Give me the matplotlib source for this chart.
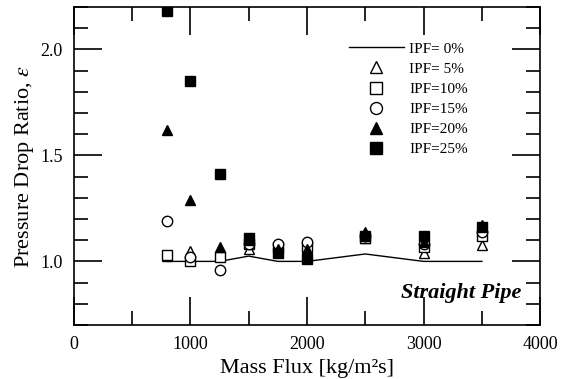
import matplotlib as mpl
mpl.use('Agg')
import matplotlib.pyplot as plt
from matplotlib.ticker import MultipleLocator

plt.rcParams['font.family'] = ['Liberation Serif', 'DejaVu Serif']
plt.rcParams['mathtext.fontset'] = 'stix'

# IPF = 0% reference line
g_line = [800, 1000, 1250, 1500, 1750, 2000, 2500, 3000, 3500]
eps_line = [1.0, 1.0, 1.0, 1.025, 1.0, 1.0, 1.035, 1.0, 1.0]

# measured points
g_pts = [800, 1000, 1250, 1500, 1750, 2000, 2500, 3000, 3500]
eps_5 = [1.025, 1.05, 1.03, 1.06, 1.065, 1.06, 1.11, 1.04, 1.075]
eps_10 = [1.03, 1.0, 1.02, 1.08, 1.07, 1.07, 1.11, 1.07, 1.12]
eps_15 = [1.19, 1.02, 0.96, 1.08, 1.08, 1.09, 1.12, 1.08, 1.14]
eps_20 = [1.62, 1.29, 1.07, 1.10, 1.06, 1.06, 1.14, 1.09, 1.17]
eps_25 = [2.18, 1.85, 1.41, 1.11, 1.04, 1.01, 1.12, 1.12, 1.16]

fig = plt.figure(figsize=(5.68, 3.79), dpi=100)
ax = fig.add_axes([0.130, 0.1425, 0.821, 0.839])

ax.plot(g_line, eps_line, color='black', lw=1.0, label='IPF= 0%')
ax.plot(g_pts, eps_5, '^', ms=7.5, mfc='white', mec='black', mew=1.0, label='IPF= 5%')
ax.plot(g_pts, eps_10, 's', ms=7.5, mfc='white', mec='black', mew=1.0, label='IPF=10%')
ax.plot(g_pts, eps_15, 'o', ms=7.5, mfc='white', mec='black', mew=1.0, label='IPF=15%')
ax.plot(g_pts, eps_20, '^', ms=7.5, color='black', label='IPF=20%')
ax.plot(g_pts, eps_25, 's', ms=7.5, color='black', label='IPF=25%')

ax.set_xlim(0, 4000)
ax.set_ylim(0.7, 2.2)
ax.xaxis.set_major_locator(MultipleLocator(1000))
ax.xaxis.set_minor_locator(MultipleLocator(500))
ax.yaxis.set_major_locator(MultipleLocator(0.5))
ax.yaxis.set_minor_locator(MultipleLocator(0.1))
ax.yaxis.set_major_formatter(mpl.ticker.FormatStrFormatter('%.1f'))
ax.tick_params(which='both', direction='in', top=True, right=True, labelsize=13, width=1.2)
ax.tick_params(which='major', length=20, pad=8)
ax.tick_params(which='minor', length=10)
for s in ax.spines.values():
    s.set_linewidth(1.2)

ax.set_xlabel('Mass Flux [kg/m²s]', fontsize=16, labelpad=4)
ax.set_ylabel('Pressure Drop Ratio, $\\varepsilon$', fontsize=16, labelpad=3)

ax.text(0.959, 0.10, 'Straight Pipe', transform=ax.transAxes, ha='right', va='center',
        fontsize=16, fontweight='bold', fontstyle='italic')

ax.legend(loc='upper left', bbox_to_anchor=(0.59, 0.89), frameon=False, fontsize=11,
          handlelength=3.6, labelspacing=0.42, handletextpad=0.35, markerscale=1.15,
          borderpad=0, borderaxespad=0)

fig.savefig('out.png', dpi=100)
